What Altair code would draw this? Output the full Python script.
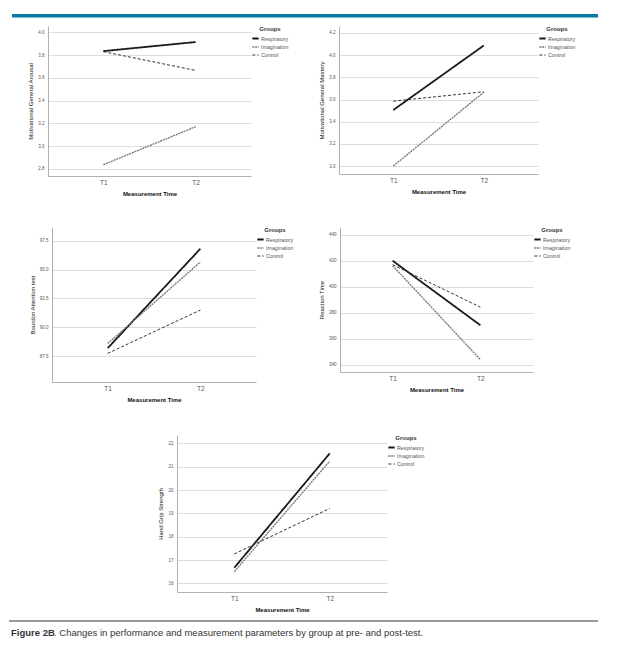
import altair as alt
import pandas as pd

groups = ["Respiratory", "Imagination", "Control"]
times = ["T1", "T2"]

arousal_resp = [3.835, 3.915]
arousal_imag = [2.835, 3.17]
arousal_ctrl = [3.83, 3.665]

mastery_resp = [3.505, 4.087]
mastery_imag = [3.0, 3.665]
mastery_ctrl = [3.585, 3.67]

bourdon_resp = [88.2, 96.8]
bourdon_imag = [88.6, 95.65]
bourdon_ctrl = [87.75, 91.5]

reaction_resp = [420.0, 370.5]
reaction_imag = [416.2, 344.1]
reaction_ctrl = [417.0, 384.4]

grip_resp = [16.67, 21.57]
grip_imag = [16.5, 21.24]
grip_ctrl = [17.26, 19.21]

arousal_ticks = [2.8, 3.0, 3.2, 3.4, 3.6, 3.8, 4.0]
mastery_ticks = [3.0, 3.2, 3.4, 3.6, 3.8, 4.0, 4.2]
bourdon_ticks = [87.5, 90.0, 92.5, 95.0, 97.5]
reaction_ticks = [340, 360, 380, 400, 420, 440]
grip_ticks = [16, 17, 18, 19, 20, 21, 22]

caption_bold = "Figure 2B"
caption_rest = ". Changes in performance and measurement parameters by group at pre- and post-test."

FONT = "Liberation Sans"
line_colors = ["#1a1a1a", "#7a7a7a", "#333333"]
line_dashes = [[1, 0], [2, 0.8], [3, 2]]
line_widths = [1.8, 1.0, 1.3]


def make_df(resp, imag, ctrl):
    rows = []
    for g, vals in zip(groups, [resp, imag, ctrl]):
        for t, v in zip(times, vals):
            rows.append({"Time": t, "Group": g, "Value": v})
    return pd.DataFrame(rows)


def panel(df, ytitle, domain, ticks, fmt, w, h):
    lg = alt.Legend(title="Groups", orient="right", offset=0, symbolType="stroke")
    return (
        alt.Chart(df)
        .mark_line()
        .encode(
            x=alt.X("Time:N", sort=times,
                    scale=alt.Scale(type="point", padding=0.6),
                    axis=alt.Axis(title="Measurement Time", labelAngle=0)),
            y=alt.Y("Value:Q",
                    scale=alt.Scale(domain=domain, nice=False, zero=False),
                    axis=alt.Axis(title=ytitle, values=ticks, format=fmt)),
            color=alt.Color("Group:N", sort=groups,
                            scale=alt.Scale(domain=groups, range=line_colors), legend=lg),
            strokeDash=alt.StrokeDash("Group:N", sort=groups,
                                      scale=alt.Scale(domain=groups, range=line_dashes), legend=lg),
            strokeWidth=alt.StrokeWidth("Group:N", sort=groups,
                                        scale=alt.Scale(domain=groups, range=line_widths), legend=lg),
        )
        .properties(width=w, height=h)
    )


def spacer(w, h):
    return (
        alt.Chart(pd.DataFrame({"s": [0]}))
        .mark_rect(opacity=0)
        .encode(x=alt.value(0), x2=alt.value(0), y=alt.value(0), y2=alt.value(0))
        .properties(width=w, height=h)
    )


res = dict(x="independent", y="independent", color="independent",
           strokeDash="independent", strokeWidth="independent")
resl = dict(color="independent", strokeDash="independent", strokeWidth="independent")


def row(*items):
    return alt.hconcat(*items, spacing=0, bounds="flush").resolve_scale(**res).resolve_legend(**resl)


p1 = panel(make_df(arousal_resp, arousal_imag, arousal_ctrl), "Motivational General Arousal",
           [2.736, 4.056], arousal_ticks, ".1f", 203, 150)
p2 = panel(make_df(mastery_resp, mastery_imag, mastery_ctrl), "Motivational General Mastery",
           [2.928, 4.263], mastery_ticks, ".1f", 199, 148)
p3 = panel(make_df(bourdon_resp, bourdon_imag, bourdon_ctrl), "Bourdon Attention test",
           [85.28, 98.68], bourdon_ticks, ".1f", 204, 155)
p4 = panel(make_df(reaction_resp, reaction_imag, reaction_ctrl), "Reaction Time",
           [334.6, 445.9], reaction_ticks, "d", 193, 145)
p5 = panel(make_df(grip_resp, grip_imag, grip_ctrl), "Hand Grip Strength",
           [15.63, 22.36], grip_ticks, "d", 210, 157)

one = pd.DataFrame({"s": [0]})
bar = (
    alt.Chart(one)
    .mark_rect(color="#0b79a5")
    .encode(x=alt.value(3), x2=alt.value(589), y=alt.value(0), y2=alt.value(3.5))
    .properties(width=589, height=12)
)

cap_df = pd.DataFrame({"bold": [caption_bold], "rest": [caption_rest]})
cap_rule = alt.Chart(cap_df).mark_rule(color="#333333", strokeWidth=1).encode(
    x=alt.value(0), x2=alt.value(589), y=alt.value(0))
cap_b = alt.Chart(cap_df).mark_text(align="left", baseline="alphabetic", font=FONT, fontSize=9.5,
                                     fontWeight="bold", color="#333333").encode(
    x=alt.value(2), y=alt.value(15), text="bold:N")
cap_r = alt.Chart(cap_df).mark_text(align="left", baseline="alphabetic", font=FONT, fontSize=9.5,
                                     color="#333333").encode(
    x=alt.value(45), y=alt.value(15), text="rest:N")
caption = alt.layer(cap_rule, cap_b, cap_r).properties(width=589, height=20)

chart = (
    alt.vconcat(
        bar,
        row(spacer(39, 201), p1, spacer(88, 1), p2),
        row(spacer(43, 208), p3, spacer(84, 1), p4),
        row(spacer(168, 185), p5),
        caption,
        spacing=0,
    )
    .resolve_scale(**res)
    .resolve_legend(**resl)
    .properties(padding={"left": 0, "top": 6, "right": 5, "bottom": 5})
    .configure_view(stroke=None)
    .configure_axis(
        labelFont=FONT, titleFont=FONT, domainColor="#b0b0b0", domainWidth=1,
        ticks=False, labelColor="#555555", titleColor="#111111",
    )
    .configure_axisX(grid=False, labelFontSize=6.5, labelPadding=3.5,
                     titleFontSize=6, titleFontWeight="bold", titlePadding=4)
    .configure_axisY(grid=True, gridColor="#dddddd", gridWidth=1, labelFontSize=4.5,
                     labelPadding=4, titleFontSize=6, titleFontWeight="normal", titlePadding=4)
    .configure_legend(
        titleFont=FONT, titleFontSize=6, titleFontWeight="bold", titleColor="#333333",
        titleAnchor="middle",
        labelFont=FONT, labelFontSize=5.3, labelColor="#555555",
        symbolSize=40, rowPadding=0, titlePadding=2, labelOffset=1, padding=0,
    )
)

chart.save("out.html", embed_options={"renderer": "svg", "actions": False})
